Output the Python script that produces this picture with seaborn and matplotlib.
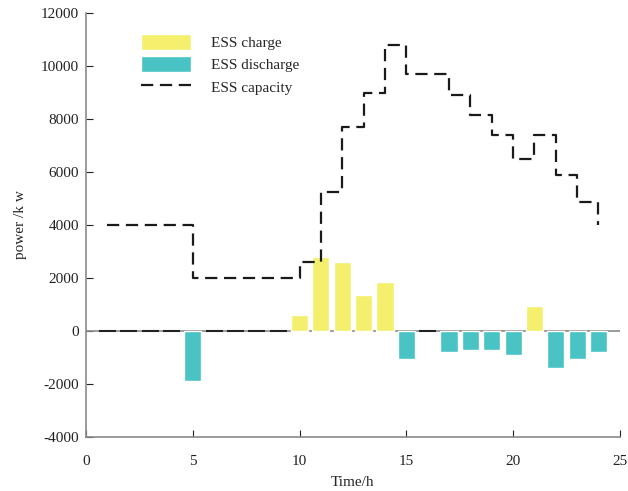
import matplotlib
matplotlib.use("Agg")
import matplotlib.pyplot as plt
import numpy as np
import pandas as pd
import seaborn as sns

hours = list(range(1, 25))
ess_power = [0, 0, 0, 0, -1900, 0, 0, 0, 0, 600, 2800, 2600, 1350, 1850,
             -1050, 0, -800, -700, -700, -900, 950, -1400, -1050, -800]
ess_capacity = [4000, 4000, 4000, 4000, 2000, 2000, 2000, 2000, 2000, 2600,
                5250, 7700, 9000, 10800, 9700, 9700, 8900, 8150, 7400, 6500,
                7400, 5900, 4850, 4000]

charge_color = "#F5EF6E"
discharge_color = "#4AC3C5"

df = pd.DataFrame({"hour": hours, "power": ess_power, "capacity": ess_capacity})
df["charge"] = df["power"].clip(lower=0)
df["discharge"] = df["power"].clip(upper=0)

sns.set_theme(style="white")
plt.rcParams["font.family"] = ["Liberation Serif", "DejaVu Serif"]

fig, ax = plt.subplots(figsize=(6.28, 4.91), dpi=100)

ax.axhline(0, color="#8a8a8a", lw=1.2, zorder=1)

sns.barplot(data=df[df["power"] > 0], x="hour", y="charge", native_scale=True,
            color=charge_color, saturation=1, width=0.8, ax=ax,
            label="ESS charge", zorder=2)
sns.barplot(data=df[df["power"] < 0], x="hour", y="discharge", native_scale=True,
            color=discharge_color, saturation=1, width=0.8, ax=ax,
            label="ESS discharge", zorder=2)

# zero-power hours show up as thin dark marks on the baseline
zero_hours = df.loc[df["power"] == 0, "hour"]
ax.hlines(np.zeros(len(zero_hours)), zero_hours - 0.4, zero_hours + 0.4,
          color="#222222", lw=1.5, zorder=3)

sns.lineplot(data=df, x="hour", y="capacity", drawstyle="steps-post",
             color="#1a1a1a", lw=1.6, dashes=False, ax=ax,
             label="ESS capacity", zorder=4)
ax.lines[-1].set_dashes((5.5, 3))

ax.set_xlim(0, 25)
ax.set_ylim(-4000, 12000)
ax.set_xticks(range(0, 26, 5))
ax.set_xticklabels(["0", "5", "10", "15", "20", "25"])
ax.set_yticks(range(-4000, 12001, 2000))
ax.set_yticklabels([str(v) for v in range(-4000, 12001, 2000)])
ax.tick_params(direction="in", length=5, width=0.8, colors="#222222",
               labelsize=11, left=True, bottom=True)
ax.tick_params(axis="x", pad=13)
ax.tick_params(axis="y", pad=5)
for side in ["top", "right"]:
    ax.spines[side].set_visible(False)
for side in ["left", "bottom"]:
    ax.spines[side].set_color("#8a8a8a")
    ax.spines[side].set_linewidth(1.2)

ax.set_xlabel("Time/h", fontsize=11, labelpad=6)
ax.set_ylabel("power /k w", fontsize=11, labelpad=10)

handles, labels = ax.get_legend_handles_labels()
order = [labels.index(name) for name in ["ESS charge", "ESS discharge", "ESS capacity"]]
ax.legend([handles[i] for i in order], [labels[i] for i in order],
          loc="upper left", bbox_to_anchor=(0.077, 0.982),
          frameon=False, fontsize=11, handlelength=3.3, handleheight=1.2,
          handletextpad=1.3, labelspacing=0.4)

fig.subplots_adjust(left=0.137, right=0.987, top=0.9735, bottom=0.11)
fig.savefig("out.png", dpi=100)
